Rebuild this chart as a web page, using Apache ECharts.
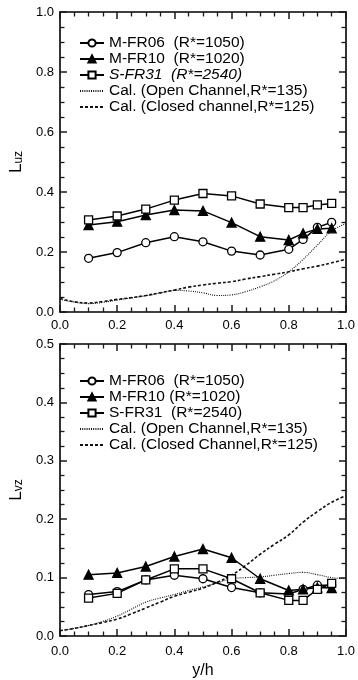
<!DOCTYPE html>
<html>
<head>
<meta charset="utf-8">
<script src="https://cdn.jsdelivr.net/npm/echarts@6/dist/echarts.min.js"></script>
</head>
<body style="margin:0">
<div id="chart" style="width:358px;height:680px"></div>
<script>
// ---- data ----
const xExp = [0.1, 0.2, 0.3, 0.4, 0.5, 0.6, 0.7, 0.8, 0.85, 0.9, 0.95];
const xCal = [0, 0.05, 0.1, 0.15, 0.2, 0.25, 0.3, 0.35, 0.4, 0.45, 0.5, 0.55, 0.6, 0.65, 0.7, 0.75, 0.8, 0.85, 0.9, 0.95, 1.0];

// Upper panel: L_uz
const uzFR06 = [0.179, 0.198, 0.231, 0.251, 0.234, 0.203, 0.190, 0.209, 0.242, 0.282, 0.299];
const uzFR10 = [0.290, 0.301, 0.323, 0.340, 0.337, 0.298, 0.251, 0.240, 0.262, 0.277, 0.279];
const uzFR31 = [0.307, 0.320, 0.343, 0.373, 0.395, 0.387, 0.360, 0.348, 0.348, 0.357, 0.362];
const uzOpen = [0.042, 0.033, 0.028, 0.032, 0.040, 0.047, 0.054, 0.063, 0.072, 0.070, 0.064, 0.055, 0.057, 0.068, 0.084, 0.104, 0.134, 0.175, 0.223, 0.270, 0.295];
const uzClosed = [0.045, 0.034, 0.030, 0.035, 0.042, 0.048, 0.055, 0.064, 0.073, 0.083, 0.090, 0.096, 0.101, 0.110, 0.118, 0.126, 0.134, 0.144, 0.153, 0.164, 0.176];

// Lower panel: L_vz
const vzFR06 = [0.071, 0.076, 0.096, 0.104, 0.098, 0.083, 0.074, 0.072, 0.080, 0.087, 0.087];
const vzFR10 = [0.105, 0.108, 0.119, 0.136, 0.149, 0.134, 0.098, 0.078, 0.080, 0.083, 0.082];
const vzFR31 = [0.065, 0.073, 0.096, 0.115, 0.115, 0.098, 0.074, 0.061, 0.061, 0.080, 0.090];
const vzOpen = [0.009, 0.013, 0.018, 0.025, 0.034, 0.046, 0.058, 0.065, 0.071, 0.078, 0.084, 0.091, 0.098, 0.100, 0.101, 0.104, 0.107, 0.109, 0.105, 0.100, 0.098];
const vzClosed = [0.009, 0.013, 0.018, 0.023, 0.029, 0.038, 0.048, 0.058, 0.068, 0.075, 0.082, 0.092, 0.104, 0.121, 0.140, 0.157, 0.173, 0.195, 0.213, 0.229, 0.240];

const xTicks = [0, 1, 0.2];        // min, max, interval
const uzTicks = [0, 1, 0.2];
const vzTicks = [0, 0.5, 0.1];

const namesTop = ['M-FR06  (R*=1050)', 'M-FR10  (R*=1020)', 'S-FR31  (R*=2540)', 'Cal. (Open Channel,R*=135)', 'Cal. (Closed channel,R*=125)'];
const namesBot = ['M-FR06  (R*=1050)', 'M-FR10 (R*=1020)', 'S-FR31  (R*=2540)', 'Cal. (Open Channel,R*=135)', 'Cal. (Closed Channel,R*=125)'];

// ---- build ----
const zip = (xs, ys) => xs.map((x, i) => [x, ys[i]]);
const FONT = 'Arial, "Liberation Sans", sans-serif';
const TICK = '#1a1a1a';

function ax(gi, pos, ticks, showLabel, margin) {
  return {
    type: 'value', gridIndex: gi, position: pos,
    min: ticks[0], max: ticks[1], interval: ticks[2],
    axisLine: {show: true, onZero: false, lineStyle: {color: '#000', width: 1.6}},
    axisTick: {show: true, inside: true, length: 7, lineStyle: {color: TICK, width: 1.5}},
    minorTick: {show: true, splitNumber: 4, length: 4.5, lineStyle: {color: TICK, width: 1.3}},
    splitLine: {show: false},
    axisLabel: {show: showLabel, color: '#000', fontSize: 13, fontFamily: FONT, margin: margin,
      formatter: v => v.toFixed(1)}
  };
}
function yName(a, sub) {
  a.name = '{L|L}{s|' + sub + '}';
  a.nameLocation = 'middle'; a.nameGap = 30; a.nameRotate = 90;
  a.nameTextStyle = {color: '#000', fontFamily: FONT,
    rich: {L: {fontSize: 17, fontFamily: FONT, color: '#000', verticalAlign: 'bottom', lineHeight: 20},
           s: {fontSize: 12, fontFamily: FONT, color: '#000', verticalAlign: 'bottom', lineHeight: 14}}};
  return a;
}
function xName(a, name) {
  a.name = name; a.nameLocation = 'middle'; a.nameGap = 27;
  a.nameTextStyle = {color: '#000', fontSize: 16, fontFamily: FONT};
  return a;
}

function expSeries(name, xi, yi, data, symbol, fill) {
  return {
    type: 'line', name: name, xAxisIndex: xi, yAxisIndex: yi, data: data,
    symbol: symbol, symbolSize: symbol === 'triangle' ? 9 : 8,
    lineStyle: {color: '#000', width: 1.5},
    itemStyle: {color: fill, borderColor: '#000', borderWidth: 1.3}
  };
}
function calSeries(name, xi, yi, data, dash, w) {
  return {
    type: 'line', name: name, xAxisIndex: xi, yAxisIndex: yi, data: data,
    symbol: 'none', smooth: 0.4,
    lineStyle: {color: '#111', width: w, type: dash},
    itemStyle: {color: '#111'}
  };
}

const series = [
  calSeries(namesTop[3], 0, 0, zip(xCal, uzOpen), [1, 1.2], 1.1),
  calSeries(namesTop[4], 0, 0, zip(xCal, uzClosed), [3, 2], 1.6),
  expSeries(namesTop[0], 0, 0, zip(xExp, uzFR06), 'circle', '#fff'),
  expSeries(namesTop[1], 0, 0, zip(xExp, uzFR10), 'triangle', '#000'),
  expSeries(namesTop[2], 0, 0, zip(xExp, uzFR31), 'rect', '#fff'),
  calSeries(namesBot[3], 2, 2, zip(xCal, vzOpen), [1, 1.2], 1.1),
  calSeries(namesBot[4], 2, 2, zip(xCal, vzClosed), [3, 2], 1.6),
  expSeries(namesBot[0], 2, 2, zip(xExp, vzFR06), 'circle', '#fff'),
  expSeries(namesBot[1], 2, 2, zip(xExp, vzFR10), 'triangle', '#000'),
  expSeries(namesBot[2], 2, 2, zip(xExp, vzFR31), 'rect', '#fff')
];

function legend(names, top, italicS) {
  return {
    orient: 'vertical', left: 74, top: top,
    itemWidth: 24, itemHeight: 9, itemGap: 0,
    data: names.map((n, i) => i < 3 ? n : {name: n, itemStyle: {color: 'rgba(0,0,0,0)', borderColor: 'rgba(0,0,0,0)', opacity: 0}}),
    selectedMode: false,
    textStyle: {color: '#000', fontSize: 15.5, fontFamily: FONT, lineHeight: 14,
      rich: {i: {fontStyle: 'italic', fontSize: 15.5, fontFamily: FONT, color: '#000', lineHeight: 14}}},
    formatter: n => (italicS && n.indexOf('S-FR31') === 0) ? '{i|' + n + '}' : n
  };
}

const chart = echarts.init(document.getElementById('chart'));
chart.setOption({
  animation: false,
  grid: [
    {left: 47, top: 12, width: 300, height: 300},
    {left: 47, top: 344, width: 300, height: 300}
  ],
  xAxis: [
    ax(0, 'bottom', xTicks, true, 7), ax(0, 'top', xTicks, false, 7),
    xName(ax(1, 'bottom', xTicks, true, 9), 'y/h'), ax(1, 'top', xTicks, false, 7)
  ],
  yAxis: [
    yName(ax(0, 'left', uzTicks, true, 6), 'uz'), ax(0, 'right', uzTicks, false, 6),
    yName(ax(1, 'left', vzTicks, true, 6), 'vz'), ax(1, 'right', vzTicks, false, 6)
  ],
  legend: [legend(namesTop, 30, true), legend(namesBot, 368, false)],
  series: series
});
</script>
</body>
</html>
